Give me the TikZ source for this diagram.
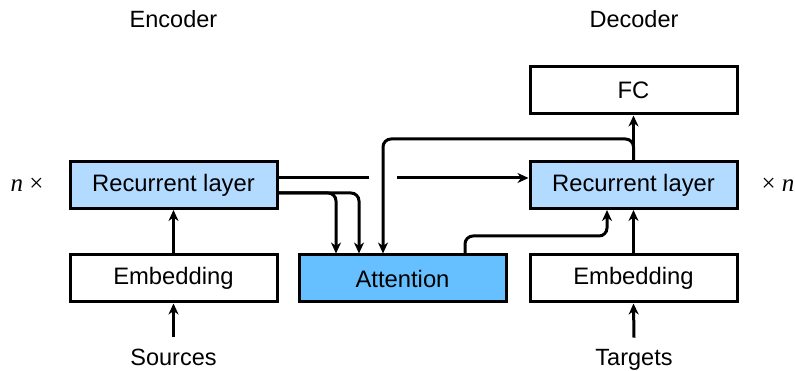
\documentclass[tikz,border=0pt]{standalone}
\usepackage{fontspec}
\setmainfont{Liberation Sans}
\newfontfamily\serifn{Liberation Serif}
\usetikzlibrary{arrows.meta}
\definecolor{lblue}{HTML}{B3DAFF}
\definecolor{dblue}{HTML}{66BFFF}
\begin{document}
\begin{tikzpicture}[x=1pt,y=-1pt,
  box/.style={draw=black, line width=3pt, minimum width=207pt, minimum height=47pt, inner sep=0pt, font=\fontsize{23.8}{28}\selectfont},
  lbl/.style={font=\fontsize{23.5}{28}\selectfont, inner sep=0pt},
  arr/.style={line width=3pt, -{Stealth[length=11pt,width=10pt,inset=3.5pt]}},
  ln/.style={line width=3pt},
  rc/.style={rounded corners=8pt}]
\useasboundingbox (0,0) rectangle (795,371);
% boxes
\node[box, fill=lblue] (recL) at (173.5,185) {Recurrent layer};
\node[box] (embL) at (173.5,278.5) {Embedding};
\node[box, fill=dblue] (attn) at (402.5,278.5) {Attention};
\node[box, fill=lblue] (recD) at (633.5,185) {Recurrent layer};
\node[box] (embD) at (633.5,278.5) {Embedding};
\node[box] (fc) at (633.5,90.5) {FC};
% labels
\node[lbl] (enc) at (173.5,19) {Encoder};
\node[lbl] (dec) at (634,19) {Decoder};
\node[lbl, anchor=base, inner ysep=11pt] (src) at (173.5,365) {Sources};
\node[lbl, anchor=base, inner ysep=11pt] (tgt) at (634,365) {Targets};
\node[lbl, font=\serifn\fontsize{25}{28}\selectfont] (nl) at (27,185) {\itshape n\upshape\ ×};
\node[lbl, font=\serifn\fontsize{25}{28}\selectfont] (nr) at (778,185) {×\ \itshape n};
% coordinates
\coordinate (g1) at (369,178);
\coordinate (g2) at (397,178);
\coordinate (hy) at (0,139);
\coordinate (my) at (0,236);
\coordinate (a1) at ([xshift=-66.5pt]attn.north);
\coordinate (a2) at ([xshift=-43.5pt]attn.north);
\coordinate (a3) at ([xshift=-19.5pt]attn.north);
\coordinate (a4) at ([xshift=62.5pt]attn.north);
\coordinate (d1) at ([xshift=-26.5pt]recD.south);
\coordinate (e1) at ([yshift=7pt]recL.east);
\coordinate (e2) at ([yshift=-8pt]recL.east);
% connectors
\draw[arr] (src.north) -- (embL.south);
\draw[arr] (embL.north) -- (recL.south);
\draw[arr] (tgt.north) -- (embD.south);
\draw[arr] (embD.north) -- (recD.south);
\draw[arr] (recD.north) -- (fc.south);
\draw[ln] (e1) -- (g1);
\draw[arr] (g2) -- (recD.west |- g2);
\draw[arr, rc] (e2) -| (a1);
\draw[arr, rc] (e2) -| (a2);
\draw[arr, rc] (recD.north) |- (a3 |- hy) -- (a3);
\draw[arr, rc] (a4) -- (a4 |- my) -| (d1);
\end{tikzpicture}
\end{document}
